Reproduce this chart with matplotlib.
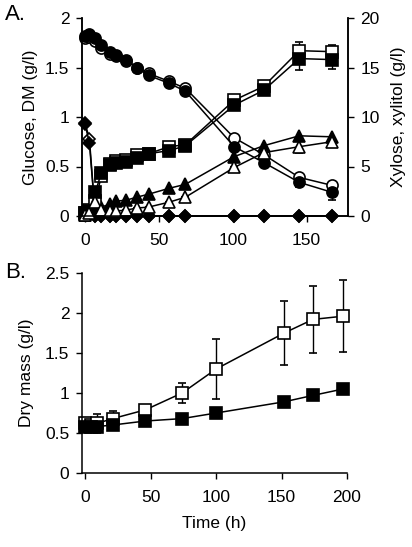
import matplotlib
matplotlib.use('Agg')
import matplotlib.pyplot as plt

plt.rcParams['font.family'] = ['Liberation Sans', 'DejaVu Sans']
plt.rcParams['font.size'] = 12.5

# panel A data
t_a = [0, 3, 7, 11, 17, 21, 28, 35, 43, 57, 68, 101, 121, 145, 167]
circ_filled = [1.82, 1.84, 1.80, 1.73, 1.66, 1.63, 1.58, 1.50, 1.42, 1.34, 1.26, 0.70, 0.54, 0.34, 0.24]
circ_open = [1.80, 1.81, 1.77, 1.70, 1.64, 1.62, 1.57, 1.50, 1.44, 1.36, 1.29, 0.79, 0.62, 0.39, 0.31]
circ_filled_err = [0, 0, 0, 0, 0, 0, 0, 0, 0, 0, 0, 0.03, 0.03, 0.05, 0.08]
circ_open_err = [0, 0, 0, 0, 0, 0, 0, 0, 0, 0, 0, 0.02, 0.02, 0.03, 0.03]
diam_filled = [0.93, 0.74, 0, 0, 0, 0, 0, 0, 0, 0, 0, 0, 0, 0, 0]
diam_open = [0.94, 0.78, 0, 0, 0, 0, 0, 0, 0, 0, 0, 0, 0, 0, 0]

sq_filled = [0.3, 0.5, 2.4, 4.3, 5.2, 5.4, 5.5, 5.9, 6.3, 6.6, 7.1, 11.2, 12.7, 15.9, 15.8]
sq_open = [0.3, 0.6, 1.5, 4.0, 5.3, 5.6, 5.7, 6.2, 6.3, 7.0, 7.2, 11.7, 13.1, 16.7, 16.6]
sq_filled_err = [0, 0, 0, 0, 0, 0, 0, 0, 0, 0, 0, 0, 0, 1.2, 1.0]
sq_open_err = [0, 0, 0, 0, 0, 0, 0, 0, 0, 0, 0, 0, 0, 0.9, 0.7]
tri_filled = [0.1, 0.3, 0.6, 0.9, 1.2, 1.5, 1.6, 1.9, 2.2, 2.8, 3.2, 6.0, 7.1, 8.1, 8.0]
tri_open = [0.1, 0.3, 1.4, 0.6, 0.5, 0.5, 0.6, 0.8, 0.9, 1.4, 1.9, 4.9, 6.4, 7.0, 7.5]
tri_open_err = [0, 0, 0, 0, 0, 0, 0, 0, 0, 0, 0, 0, 0, 0.6, 0.2]

# panel B data
t_b = [0, 4, 9, 21, 46, 74, 100, 152, 174, 197]
dm_open = [0.62, 0.60, 0.62, 0.68, 0.79, 1.00, 1.30, 1.75, 1.92, 1.96]
dm_open_err = [0.05, 0.08, 0.12, 0.10, 0.05, 0.13, 0.38, 0.40, 0.42, 0.45]
dm_filled = [0.57, 0.57, 0.58, 0.60, 0.65, 0.68, 0.75, 0.89, 0.97, 1.05]
dm_filled_err = [0.03, 0.04, 0.05, 0.03, 0.03, 0.04, 0.02, 0.02, 0.02, 0.02]

fig = plt.figure(figsize=(4.12, 5.47), dpi=100)

ms = 8
mew = 1.2
lw = 1.1
eb = dict(capsize=3, elinewidth=1, capthick=1, ecolor='black')


def style_ax(ax):
    ax.tick_params(direction='out', length=4, width=1, pad=5)
    ax.tick_params(axis='x', pad=8)
    for s in ax.spines.values():
        s.set_linewidth(1.1)


ax1 = fig.add_axes([82/412, (547-216)/547, 266/412, 198/547])
ax2 = ax1.twinx()

ax1.errorbar(t_a, circ_open, yerr=circ_open_err, fmt='-o', color='black', mfc='white',
             mec='black', ms=ms, mew=mew, lw=lw, zorder=3, clip_on=False, **eb)
ax1.errorbar(t_a, circ_filled, yerr=circ_filled_err, fmt='-o', color='black', mfc='black',
             ms=ms, mew=mew, lw=lw, zorder=3, clip_on=False, **eb)
ax1.plot(t_a, diam_open, '-D', color='black', mfc='white', ms=6.5, mew=mew, lw=lw,
         clip_on=False, zorder=3)
ax1.plot(t_a, diam_filled, '-D', color='black', mfc='black', ms=6.5, mew=mew, lw=lw,
         clip_on=False, zorder=4)

ax2.errorbar(t_a, sq_open, yerr=sq_open_err, fmt='-s', color='black', mfc='white',
             ms=ms, mew=mew, lw=lw, clip_on=False, **eb)
ax2.errorbar(t_a, sq_filled, yerr=sq_filled_err, fmt='-s', color='black', mfc='black',
             ms=ms, mew=mew, lw=lw, clip_on=False, **eb)
ax2.errorbar(t_a, tri_open, yerr=tri_open_err, fmt='-^', color='black', mfc='white',
             ms=ms, mew=mew, lw=lw, clip_on=False, **eb)
ax2.plot(t_a, tri_filled, '-^', color='black', mfc='black', ms=ms, mew=mew, lw=lw,
         clip_on=False)

ax1.set_xlim(-2, 178)
ax1.set_ylim(0, 2)
ax2.set_ylim(0, 20)
ax1.set_xticks([0, 50, 100, 150])
ax1.set_yticks([0, 0.5, 1, 1.5, 2])
ax1.set_yticklabels(['0', '0.5', '1', '1.5', '2'])
ax2.set_yticks([0, 5, 10, 15, 20])
ax1.spines['top'].set_visible(False)
ax2.spines['top'].set_visible(False)
style_ax(ax1)
style_ax(ax2)
ax1.set_ylabel('Glucose, DM (g/l)', labelpad=5)
ax2.set_ylabel('Xylose, xylitol (g/l)', labelpad=8)

ax3 = fig.add_axes([82/412, (547-473)/547, 265/412, 200/547])
ax3.errorbar(t_b, dm_open, yerr=dm_open_err, fmt='-s', color='black', mfc='white',
             ms=ms, mew=mew, lw=lw, clip_on=False, **eb)
ax3.errorbar(t_b, dm_filled, yerr=dm_filled_err, fmt='-s', color='black', mfc='black',
             ms=ms, mew=mew, lw=lw, clip_on=False, **eb)
ax3.set_xlim(-2.5, 200)
ax3.set_ylim(0, 2.5)
ax3.set_xticks([0, 50, 100, 150, 200])
ax3.set_yticks([0, 0.5, 1, 1.5, 2, 2.5])
ax3.set_yticklabels(['0', '0.5', '1', '1.5', '2', '2.5'])
ax3.spines['top'].set_visible(False)
ax3.spines['right'].set_visible(False)
style_ax(ax3)
ax3.set_ylabel('Dry mass (g/l)', labelpad=8)
ax3.set_xlabel('Time (h)', labelpad=8)

fig.text(5/412, 1 - 15/547, 'A.', fontsize=16, va='center', ha='left')
fig.text(5/412, 1 - 272/547, 'B.', fontsize=16, va='center', ha='left')

fig.savefig('out.png', dpi=100)
